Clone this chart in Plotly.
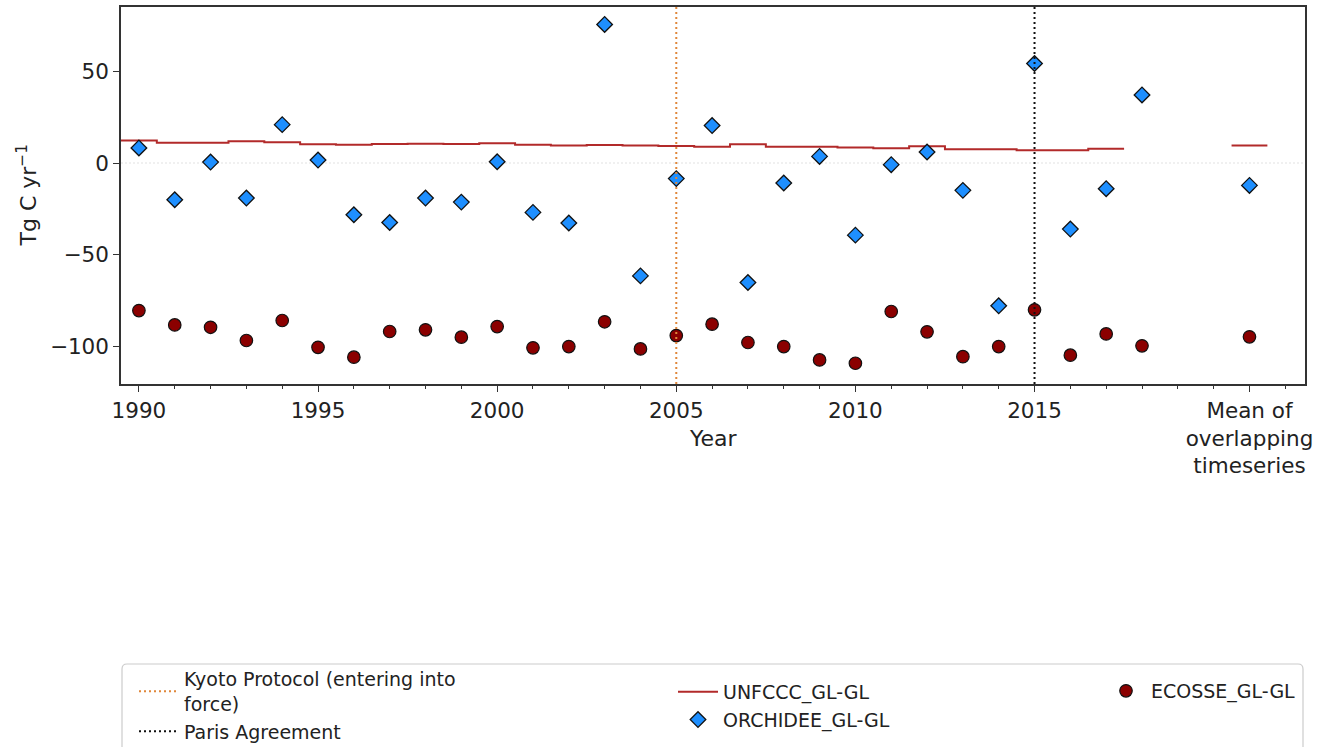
import plotly.graph_objects as go

# ---------------- data ----------------
years = list(range(1990, 2019))
orchidee = [8.2, -20.0, 0.5, -19.1, 20.9, 1.6, -28.2, -32.4, -19.1, -21.3,
            0.7, -26.9, -32.7, 75.5, -61.5, -8.5, 20.4, -65.1, -10.9, 3.6,
            -39.3, -0.9, 6.0, -14.9, -77.8, 54.2, -36.0, -14.0, 37.1]
ecosse = [-80.4, -88.2, -89.5, -96.7, -85.8, -100.4, -105.8, -91.8, -90.9, -94.9,
          -89.1, -100.7, -100.0, -86.5, -101.3, -94.0, -87.8, -97.8, -100.0, -107.3,
          -109.1, -80.9, -92.0, -105.5, -100.0, -80.0, -104.7, -93.1, -99.6]
unfccc_years = list(range(1990, 2018))
unfccc = [12.2, 11.1, 11.1, 11.8, 11.3, 10.2, 10.0, 10.4, 10.5, 10.3,
          10.7, 10.0, 9.6, 9.8, 9.6, 9.3, 8.9, 10.2, 8.9, 8.9,
          8.4, 8.0, 9.1, 7.5, 7.5, 6.9, 6.9, 7.8]

mean_pos = 2021
orchidee_mean = -12.2
ecosse_mean = -94.7
unfccc_mean = 9.6

kyoto_year = 2005
paris_year = 2015

x_tick_vals = [1990, 1995, 2000, 2005, 2010, 2015, 2021]
x_tick_text = ["1990", "1995", "2000", "2005", "2010", "2015",
               "Mean of<br>overlapping<br>timeseries"]
y_tick_vals = [-100, -50, 0, 50]

# ---------------- style ----------------
FONT = "DejaVu Sans"
TXT = "#222222"
W, H = 1322, 747
ML, MR, MT, MB = 121, 17, 7, 363

fig = go.Figure()

# UNFCCC step line (each year drawn as a one-year-wide level), plus mean level
step_x = [y - 0.5 for y in unfccc_years] + [unfccc_years[-1] + 0.5]
step_y = unfccc + [unfccc[-1]]
fig.add_trace(go.Scatter(
    x=step_x, y=step_y, mode="lines", line=dict(color="#B22A2A", width=2, shape="hv"),
    name="UNFCCC_GL-GL", legend="legend2", legendrank=1))
fig.add_trace(go.Scatter(
    x=[mean_pos - 0.5, mean_pos + 0.5], y=[unfccc_mean, unfccc_mean], mode="lines",
    line=dict(color="#B22A2A", width=2), showlegend=False, hoverinfo="skip"))

fig.add_trace(go.Scatter(
    x=years + [mean_pos], y=orchidee + [orchidee_mean], mode="markers",
    marker=dict(symbol="diamond", size=12, color="#1E8FFF",
                line=dict(color="#111111", width=1.3)),
    name="ORCHIDEE_GL-GL", legend="legend2", legendrank=2))

fig.add_trace(go.Scatter(
    x=years + [mean_pos], y=ecosse + [ecosse_mean], mode="markers",
    marker=dict(symbol="circle", size=12.5, color="#8B0000",
                line=dict(color="#111111", width=1.2)),
    name="ECOSSE_GL-GL", legend="legend3"))

# zero reference line
fig.add_shape(type="line", xref="paper", x0=0, x1=1, yref="y", y0=0, y1=0,
              line=dict(color="#d9d9d9", width=0.8, dash="2px,2px"), layer="below")

# event lines
fig.add_shape(type="line", xref="x", x0=kyoto_year, x1=kyoto_year, yref="y domain", y0=0, y1=1,
              line=dict(color="#E0873A", width=2, dash="2px,3px"),
              showlegend=True, name="Kyoto Protocol (entering into<br>force)",
              legend="legend", legendrank=1)
fig.add_shape(type="line", xref="x", x0=paris_year, x1=paris_year, yref="y domain", y0=0, y1=1,
              line=dict(color="#111111", width=2, dash="2px,3px"),
              showlegend=True, name="Paris Agreement", legend="legend", legendrank=2)

# legend frame (rounded rectangle in paper coordinates)
pw, ph = W - ML - MR, H - MT - MB
def px_x(px):
    return (px - ML) / pw
def px_y(py):
    return (H - MB - py) / ph
x0, x1 = px_x(122), px_x(1303)
y0, y1 = px_y(664), px_y(760)
rx, ry = 5 / pw, 5 / ph
path = (f"M {x0+rx},{y0} L {x1-rx},{y0} Q {x1},{y0} {x1},{y0-ry} "
        f"L {x1},{y1+ry} Q {x1},{y1} {x1-rx},{y1} L {x0+rx},{y1} "
        f"Q {x0},{y1} {x0},{y1+ry} L {x0},{y0-ry} Q {x0},{y0} {x0+rx},{y0} Z")
fig.add_shape(type="path", xref="paper", yref="paper", path=path,
              line=dict(color="#cccccc", width=1.2), fillcolor="rgba(255,255,255,0)")

leg_common = dict(xref="container", yref="container", xanchor="left", yanchor="top",
                  bgcolor="rgba(0,0,0,0)", borderwidth=0, orientation="v",
                  font=dict(family=FONT, size=19, color=TXT), itemwidth=40,
                  traceorder="normal", tracegroupgap=0)

fig.update_layout(
    width=W, height=H,
    margin=dict(l=ML, r=MR, t=MT, b=MB, autoexpand=False),
    paper_bgcolor="white", plot_bgcolor="white",
    font=dict(family=FONT, size=21.5, color=TXT),
    showlegend=True,
    legend=dict(leg_common, x=134 / W, y=1 - 660 / H),
    legend2=dict(leg_common, x=673 / W, y=1 - 673 / H),
    legend3=dict(leg_common, x=1101 / W, y=1 - 672 / H),
    xaxis=dict(range=[1989.5, 2022.55], tickmode="array", tickvals=x_tick_vals,
               ticktext=x_tick_text, ticks="outside", ticklen=6, tickwidth=1.3,
               tickcolor="#333333", showline=True, linecolor="#333333", linewidth=1.5,
               mirror=True, showgrid=False, zeroline=False,
               tickfont=dict(family=FONT, size=21.5, color=TXT),
               minor=dict(dtick=1, tick0=1990, ticks="outside", ticklen=3,
                          tickwidth=1.1, tickcolor="#333333", showgrid=False)),
    yaxis=dict(range=[-120.4, 85], tickmode="array", tickvals=y_tick_vals,
               ticks="outside", ticklen=6, tickwidth=1.3, tickcolor="#333333",
               showline=True, linecolor="#333333", linewidth=1.5, mirror=True,
               showgrid=False, zeroline=False,
               tickfont=dict(family=FONT, size=21.5, color=TXT)),
    annotations=[
        dict(text="Year", xref="paper", yref="paper", x=0.5, y=px_y(438),
             xanchor="center", yanchor="middle", showarrow=False,
             font=dict(family=FONT, size=22, color=TXT)),
        dict(text="Tg C yr<sup>−1</sup>", xref="paper", yref="paper", x=px_x(26), y=0.5,
             xanchor="center", yanchor="middle", textangle=-90, showarrow=False,
             font=dict(family=FONT, size=22, color=TXT)),
    ],
)

fig.write_html("out.html")
